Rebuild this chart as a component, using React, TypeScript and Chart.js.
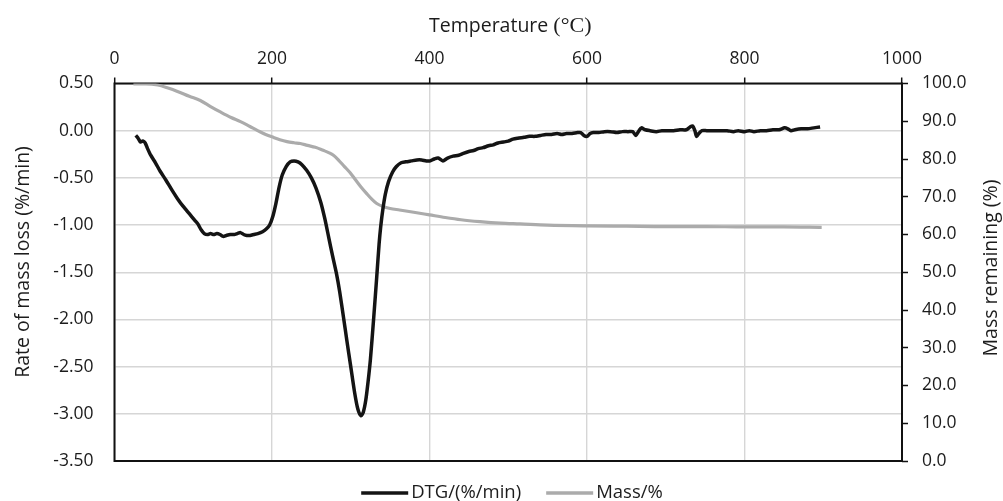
import React, { useEffect, useRef } from "react";
import { Chart, registerables } from "chart.js";

Chart.register(...registerables);

// DTG curve: temperature (°C) and rate of mass loss (%/min)
const dtgTemp = [
  27, 30, 33, 36, 39, 42, 46, 52, 58, 65, 73, 80, 87, 95, 102, 106, 110, 114, 118, 122,
  126, 130, 134, 138, 142, 147, 152, 156, 160, 164, 168, 172, 177, 182, 188, 193, 197, 201, 205, 209,
  213, 218, 223, 228, 233, 238, 244, 250, 256, 262, 267, 272, 277, 282, 286, 291, 295, 300, 305, 309,
  313, 316, 319, 322, 325, 329, 333, 336, 338, 341, 344, 348, 353, 358, 364, 370, 377, 384, 390, 396,
  401, 406, 411, 417, 423, 430, 437, 443, 450, 456, 462, 468, 475, 481, 487, 494, 500, 506, 512, 520,
  527, 534, 541, 548, 555, 562, 568, 574, 581, 588, 592, 596, 600, 604, 608, 615, 622, 630, 638, 645,
  652, 658, 662, 666, 669, 674, 680, 688, 695, 702, 710, 718, 726, 731, 734, 737, 739, 742, 746, 752,
  760, 770, 778, 786, 792, 800, 806, 812, 820, 828, 836, 844, 851, 855, 859, 864, 872, 880, 888, 896,
];
const dtgRate = [
  -0.05, -0.08, -0.12, -0.11, -0.13, -0.19, -0.26, -0.34, -0.43, -0.52, -0.63, -0.72, -0.8, -0.88, -0.95, -0.99, -1.05, -1.09, -1.1, -1.09,
  -1.1, -1.09, -1.1, -1.12, -1.11, -1.1, -1.1, -1.09, -1.08, -1.1, -1.11, -1.11, -1.1, -1.09, -1.07, -1.04, -1.0, -0.91, -0.77, -0.6,
  -0.47, -0.38, -0.33, -0.32, -0.33, -0.36, -0.42, -0.5, -0.61, -0.76, -0.93, -1.13, -1.33, -1.52, -1.71, -1.99, -2.22, -2.5, -2.78, -2.95,
  -3.02, -2.98, -2.86, -2.66, -2.42, -2.0, -1.55, -1.2, -1.02, -0.82, -0.67, -0.54, -0.44, -0.38, -0.34, -0.33, -0.32, -0.31, -0.31, -0.32,
  -0.32, -0.3, -0.29, -0.32, -0.29, -0.27, -0.26, -0.24, -0.22, -0.21, -0.19, -0.18, -0.16, -0.15, -0.13, -0.12, -0.11, -0.09, -0.08, -0.07,
  -0.06, -0.06, -0.05, -0.04, -0.04, -0.03, -0.04, -0.03, -0.03, -0.02, -0.02, -0.05, -0.06, -0.03, -0.02, -0.02, -0.01, -0.01, -0.02, -0.01,
  -0.01, -0.01, -0.05, 0.0, 0.03, 0.01, 0.0, -0.01, 0.0, 0.0, 0.0, 0.01, 0.01, 0.04, 0.05, 0.0, -0.06, -0.03, 0.0, 0.0,
  0.0, 0.0, 0.0, -0.01, 0.0, -0.01, 0.0, -0.01, 0.0, 0.0, 0.01, 0.01, 0.03, 0.02, 0.0, 0.01, 0.02, 0.02, 0.03, 0.04,
];

// TG curve: temperature (°C) and mass remaining (%)
const massTemp = [
  24, 40, 55, 68, 80, 95, 109, 122, 135, 148, 160, 172, 183, 192, 202, 210, 219, 228, 236, 245,
  255, 265, 272, 278, 285, 292, 299, 306, 313, 320, 327, 333, 341, 350, 362, 380, 400, 420, 440, 464,
  490, 515, 550, 600, 650, 700, 750, 800, 850, 898,
];
const massRemaining = [
  99.9, 99.9, 99.6, 98.8, 97.9, 96.6, 95.5, 93.9, 92.4, 91.0, 89.9, 88.6, 87.4, 86.5, 85.7, 85.1, 84.6, 84.3, 84.1, 83.6,
  83.1, 82.3, 81.7, 81.0, 79.6, 78.0, 76.4, 74.5, 72.6, 70.9, 69.3, 68.2, 67.4, 66.9, 66.5, 65.9, 65.2, 64.5, 63.9, 63.4,
  63.0, 62.8, 62.5, 62.3, 62.2, 62.1, 62.1, 62.0, 62.0, 61.9,
];

const xTicks = [0, 200, 400, 600, 800, 1000];
const seriesLabels = ["DTG/(%/min)", "Mass/%"];
const axisTitles = {
  x: "Temperature ",
  xUnit: "(°C)",
  left: "Rate of mass loss (%/min)",
  right: "Mass remaining (%)",
};

const SANS = "'Open Sans', 'Noto Sans', sans-serif";
const TEXT = "#1c1c1c";
const GRID = "#d6d6d6";

// Draws the black frame around the plot area beneath the curves
const framePlugin = {
  id: "frame",
  beforeDatasetsDraw(chart: any) {
    const { ctx, chartArea: a } = chart;
    ctx.save();
    ctx.strokeStyle = "#111";
    ctx.lineWidth = 2;
    ctx.strokeRect(a.left, a.top, a.right - a.left, a.bottom - a.top);
    ctx.restore();
  },
};

// Axis titles and the bottom legend
const annotatePlugin = {
  id: "annotate",
  afterDraw(chart: any) {
    const { ctx, chartArea: a } = chart;
    ctx.save();
    ctx.fillStyle = TEXT;
    ctx.textBaseline = "middle";

    // top axis title with a serif unit
    const sansFont = `19.5px ${SANS}`;
    const serifFont = "22px 'Liberation Serif', 'DejaVu Serif', serif";
    ctx.font = sansFont;
    const w1 = ctx.measureText(axisTitles.x).width;
    ctx.font = serifFont;
    const w2 = ctx.measureText(axisTitles.xUnit).width;
    const cx = (a.left + a.right) / 2 + 2;
    const tx = cx - (w1 + w2) / 2;
    ctx.textAlign = "left";
    ctx.font = sansFont;
    ctx.fillText(axisTitles.x, tx, 26);
    ctx.font = serifFont;
    ctx.fillText(axisTitles.xUnit, tx + w1, 26);

    // left and right axis titles
    ctx.font = sansFont;
    ctx.textAlign = "center";
    ctx.save();
    ctx.translate(23, 262);
    ctx.rotate(-Math.PI / 2);
    ctx.fillText(axisTitles.left, 0, 0);
    ctx.restore();
    ctx.save();
    ctx.translate(991, 268);
    ctx.rotate(-Math.PI / 2);
    ctx.fillText(axisTitles.right, 0, 0);
    ctx.restore();

    // legend
    ctx.font = `18.5px ${SANS}`;
    const lineLen = 47;
    const gapText = 3;
    const gapItem = 25;
    const items = chart.data.datasets.map((d: any) => ({
      label: d.label,
      color: d.borderColor,
      width: ctx.measureText(d.label).width,
    }));
    const total =
      items.reduce((s: number, it: any) => s + lineLen + gapText + it.width, 0) +
      gapItem * (items.length - 1);
    let lx = 512 - total / 2;
    const ly = 493;
    ctx.textAlign = "left";
    items.forEach((it: any) => {
      ctx.strokeStyle = it.color;
      ctx.lineWidth = 3.5;
      ctx.beginPath();
      ctx.moveTo(lx, ly);
      ctx.lineTo(lx + lineLen, ly);
      ctx.stroke();
      ctx.fillStyle = TEXT;
      ctx.fillText(it.label, lx + lineLen + gapText, ly);
      lx += lineLen + gapText + it.width + gapItem;
    });
    ctx.restore();
  },
};

export default function App() {
  const canvasRef = useRef<HTMLCanvasElement | null>(null);

  useEffect(() => {
    const canvas = canvasRef.current;
    if (!canvas) return;

    const dtgPoints = dtgTemp.map((t, i) => ({ x: t, y: dtgRate[i] }));
    const massPoints = massTemp.map((t, i) => ({ x: t, y: massRemaining[i] }));
    const tickFont = { family: SANS, size: 17.5 };

    const chart = new Chart(canvas, {
      type: "line",
      data: {
        datasets: [
          {
            label: seriesLabels[0],
            data: dtgPoints,
            yAxisID: "y",
            borderColor: "#141414",
            borderWidth: 3.5,
            pointRadius: 0,
            tension: 0.25,
            order: 1,
          },
          {
            label: seriesLabels[1],
            data: massPoints,
            yAxisID: "y1",
            borderColor: "#ababab",
            borderWidth: 3.2,
            pointRadius: 0,
            cubicInterpolationMode: "monotone",
            order: 2,
          },
        ],
      },
      options: {
        responsive: false,
        animation: false,
        layout: { padding: { left: 0, right: 0, top: 0, bottom: 40 } },
        plugins: {
          legend: { display: false },
          tooltip: { enabled: false },
        },
        scales: {
          x: {
            type: "linear",
            position: "top",
            min: 0,
            max: 1000,
            afterBuildTicks: (s: any) => {
              s.ticks = xTicks.map((v) => ({ value: v }));
            },
            ticks: {
              font: tickFont,
              color: TEXT,
              padding: 8,
              maxRotation: 0,
              callback: (v: any) => String(v),
            },
            grid: { color: GRID, lineWidth: 1.4, tickColor: "#111", tickLength: 6, tickWidth: 1.5 },
            border: { display: false },
            afterFit: (s: any) => {
              s.height = 83.5;
            },
          },
          y: {
            type: "linear",
            position: "left",
            min: -3.5,
            max: 0.5,
            ticks: {
              stepSize: 0.5,
              font: tickFont,
              color: TEXT,
              padding: 21,
              callback: (v: any) => Number(v).toFixed(2),
            },
            grid: { color: GRID, lineWidth: 1.4, drawTicks: false },
            border: { display: false },
            afterFit: (s: any) => {
              s.width = 114.5;
            },
          },
          y1: {
            type: "linear",
            position: "right",
            min: 0,
            max: 100,
            ticks: {
              stepSize: 10,
              font: tickFont,
              color: TEXT,
              padding: 14,
              callback: (v: any) => Number(v).toFixed(1),
            },
            grid: { drawOnChartArea: false, tickColor: "#111", tickLength: 6, tickWidth: 1.5 },
            border: { display: false },
            afterFit: (s: any) => {
              s.width = 101;
            },
          },
        },
      },
      plugins: [framePlugin, annotatePlugin],
    } as any);

    return () => chart.destroy();
  }, []);

  return (
    <div style={{ position: "fixed", left: 0, top: 0, width: 1003, height: 501, background: "#fff" }}>
      <canvas ref={canvasRef} width={1003} height={501} />
    </div>
  );
}
